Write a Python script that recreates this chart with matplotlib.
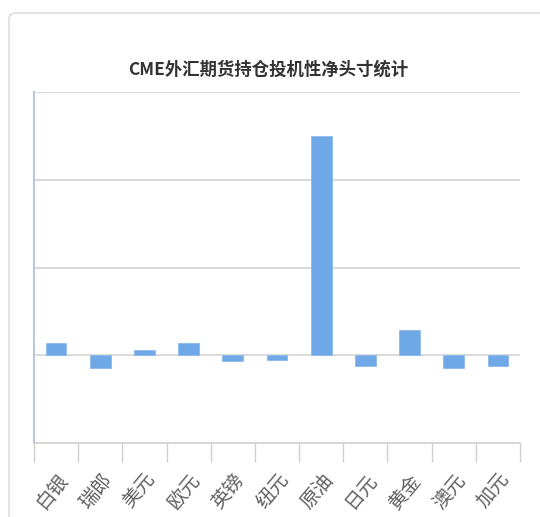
import matplotlib
matplotlib.use('Agg')
from matplotlib import pyplot as plt
from matplotlib.patches import FancyBboxPatch
import numpy as np

plt.rcParams['font.family'] = ['Noto Sans CJK SC', 'DejaVu Sans']

# data (units: one gridline step)
categories = ['白银', '瑞郎', '美元', '欧元', '英镑', '纽元', '原油', '日元', '黄金', '澳元', '加元']
values = [0.14, -0.15, 0.06, 0.14, -0.07, -0.05, 2.5, -0.12, 0.29, -0.15, -0.12]
title = 'CME外汇期货持仓投机性净头寸统计'

fig = plt.figure(figsize=(5.4, 5.17), dpi=100)

# card outline behind the chart
card = FancyBboxPatch((9 / 540, -0.05), 1.05, 1 - 13 / 517 + 0.05,
                      boxstyle='round,pad=0,rounding_size=0.012',
                      transform=fig.transFigure, facecolor='white',
                      edgecolor='#dedede', linewidth=1.2, zorder=-10)
fig.patches.append(card)

ax = fig.add_axes([34 / 540, 1 - 443 / 517, (520 - 34) / 540, (443 - 92) / 517])
ax.set_facecolor('none')
ax.set_zorder(5)

x = np.arange(len(categories))
ax.bar(x, values, width=0.47, color='#6fa8e6', edgecolor='#8dbbec',
       linewidth=0.6, zorder=3)

ax.set_xlim(-0.5, len(categories) - 0.5)
ax.set_ylim(-1, 3)
ax.set_yticks([0, 1, 2, 3])
ax.set_yticklabels([])
ax.tick_params(axis='y', length=0)
ax.yaxis.grid(True, color='#d4d4d4', linewidth=1.2, zorder=1)

ax.set_xticks(x)
ax.set_xticklabels(categories, rotation=50, ha='right', rotation_mode='anchor',
                   fontsize=14, color='#606060')
ax.tick_params(axis='x', which='major', length=0, pad=19)
ax.set_xticks(np.arange(-0.5, len(categories)), minor=True)
ax.tick_params(axis='x', which='minor', length=14, color='#cfcfcf', width=1)

for side in ['top', 'right']:
    ax.spines[side].set_visible(False)
ax.spines['left'].set_color('#b9c9d9')
ax.spines['left'].set_linewidth(1.5)
ax.spines['bottom'].set_color('#cfcfcf')
ax.spines['bottom'].set_linewidth(1.2)

fig.text(268 / 540, 1 - 70 / 517, title, ha='center', va='center',
         fontsize=12.5, fontweight='bold', color='#333333')

fig.savefig('out.png', dpi=100)
